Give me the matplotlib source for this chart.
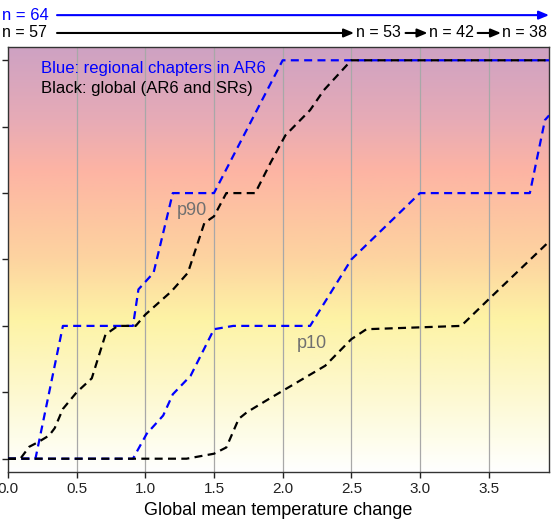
import numpy as np
import matplotlib
matplotlib.use("Agg")
import matplotlib.pyplot as plt
from matplotlib.colors import LinearSegmentedColormap
from matplotlib.transforms import blended_transform_factory

plt.rcParams["font.family"] = ["Liberation Sans", "DejaVu Sans"]

# risk level curves (x: global mean temperature change, y: risk level 0..6)
blue_p90_x = [0, 0.2, 0.4, 0.91, 0.95, 1.06, 1.2, 1.5, 2.0, 3.94]
blue_p90_y = [0, 0, 2, 2, 2.55, 2.8, 4, 4, 6, 6]

black_p90_x = [0, 0.09, 0.155, 0.22, 0.3, 0.34, 0.4, 0.5, 0.61, 0.71, 0.8, 0.93,
               1.0, 1.19, 1.31, 1.43, 1.5, 1.59, 1.8, 1.91, 2.02, 2.2, 2.3, 2.5, 3.94]
black_p90_y = [0, 0, 0.18, 0.25, 0.35, 0.46, 0.75, 1.0, 1.21, 1.87, 2.0, 2.0,
               2.17, 2.52, 2.8, 3.55, 3.65, 4.0, 4.0, 4.45, 4.87, 5.25, 5.55, 6.0, 6.0]

blue_p10_x = [0, 0.91, 1.01, 1.13, 1.2, 1.33, 1.5, 1.64, 2.2, 2.5, 3.0, 3.8, 3.91, 3.94]
blue_p10_y = [0, 0, 0.375, 0.65, 0.97, 1.25, 1.95, 2.0, 2.0, 3.0, 4.0, 4.0, 5.1, 5.17]

black_p10_x = [0, 1.3, 1.5, 1.59, 1.68, 1.74, 1.9, 2.31, 2.5, 2.61, 3.3, 3.5, 3.94]
black_p10_y = [0, 0, 0.075, 0.17, 0.6, 0.7, 0.9, 1.4, 1.8, 1.95, 2.0, 2.4, 3.27]

# sample sizes along the top
n_blue = ["n = 64"]
n_black = ["n = 57", "n = 53", "n = 42", "n = 38"]

# background gradient (risk level -> colour)
bg_levels = [-0.2, 0.3, 1.1, 2.1, 3.0, 3.6, 4.35, 5.1, 6.2]
bg_colors = ["#ffffff", "#fefdea", "#fdf8cb", "#fdf3a5", "#fdd4a0",
             "#fdc6a1", "#fdb4a4", "#e7abb6", "#cea2c3"]

x_max = 3.94
y_lo, y_hi = -0.2, 6.2

fig = plt.figure(figsize=(5.51, 5.27), dpi=100)
ax = fig.add_axes([0.0145, 0.1044, 0.982, 0.8064])

pos = [(v - y_lo) / (y_hi - y_lo) for v in bg_levels]
cmap = LinearSegmentedColormap.from_list("ember", list(zip(pos, bg_colors)))
grad = np.linspace(0, 1, 256).reshape(-1, 1)
ax.imshow(grad, cmap=cmap, origin="lower", aspect="auto",
          extent=[0, x_max, y_lo, y_hi], zorder=0)

for gx in np.arange(0.5, 3.6, 0.5):
    ax.axvline(gx, color="#a8a8a8", lw=0.9, zorder=1)

dash = (0, (3.6, 2.4))
ax.plot(blue_p90_x, blue_p90_y, color="#0000ff", lw=1.6, ls=dash, zorder=3)
ax.plot(blue_p10_x, blue_p10_y, color="#0000ff", lw=1.6, ls=dash, zorder=3)
ax.plot(black_p90_x, black_p90_y, color="black", lw=1.6, ls=dash, zorder=4)
ax.plot(black_p10_x, black_p10_y, color="black", lw=1.6, ls=dash, zorder=4)

ax.text(0.244, 5.88, "Blue: regional chapters in AR6", color="#0000ff",
        fontsize=12, va="center", zorder=5)
ax.text(0.244, 5.57, "Black: global (AR6 and SRs)", color="black",
        fontsize=12, va="center", zorder=5)
ax.text(1.23, 3.74, "p90", color="#707070", fontsize=13, va="center", zorder=5)
ax.text(2.10, 1.73, "p10", color="#707070", fontsize=13, va="center", zorder=5)

ax.set_xlim(0, x_max)
ax.set_ylim(y_lo, y_hi)
ax.set_xticks(np.arange(0, 3.6, 0.5))
ax.set_xticklabels([f"{v:.1f}" for v in np.arange(0, 3.6, 0.5)])
ax.set_yticks(range(7))
ax.set_yticklabels([])
ax.tick_params(axis="both", direction="out", length=4, width=1, labelsize=11,
               colors="#222222")
ax.set_xlabel("Global mean temperature change", fontsize=13, labelpad=4)
for sp in ax.spines.values():
    sp.set_color("#333333")
    sp.set_linewidth(1.0)

# n annotations above the axes
trans = blended_transform_factory(ax.transData, ax.transAxes)
y_blue, y_black = 1.075, 1.033
arrow_kw = dict(arrowstyle="-|>,head_length=0.6,head_width=0.25", lw=1.5,
                shrinkA=0, shrinkB=0, mutation_scale=10)

ax.text(-0.044, y_blue, n_blue[0], color="#0000ff", fontsize=12, va="center",
        transform=trans, clip_on=False)
ax.annotate("", xy=(x_max, y_blue), xytext=(0.357, y_blue), xycoords=trans,
            textcoords=trans, arrowprops=dict(color="#0000ff", **arrow_kw),
            annotation_clip=False)

text_x = [-0.044, 2.535, 3.065, 3.6]
arrows = [(0.357, 2.52), (2.895, 3.055), (3.42, 3.59)]
for tx, lab in zip(text_x, n_black):
    ax.text(tx, y_black, lab, color="black", fontsize=11.5, va="center",
            transform=trans, clip_on=False)
for a0, a1 in arrows:
    ax.annotate("", xy=(a1, y_black), xytext=(a0, y_black), xycoords=trans,
                textcoords=trans, arrowprops=dict(color="black", **arrow_kw),
                annotation_clip=False)

fig.savefig("out.png", dpi=100)
